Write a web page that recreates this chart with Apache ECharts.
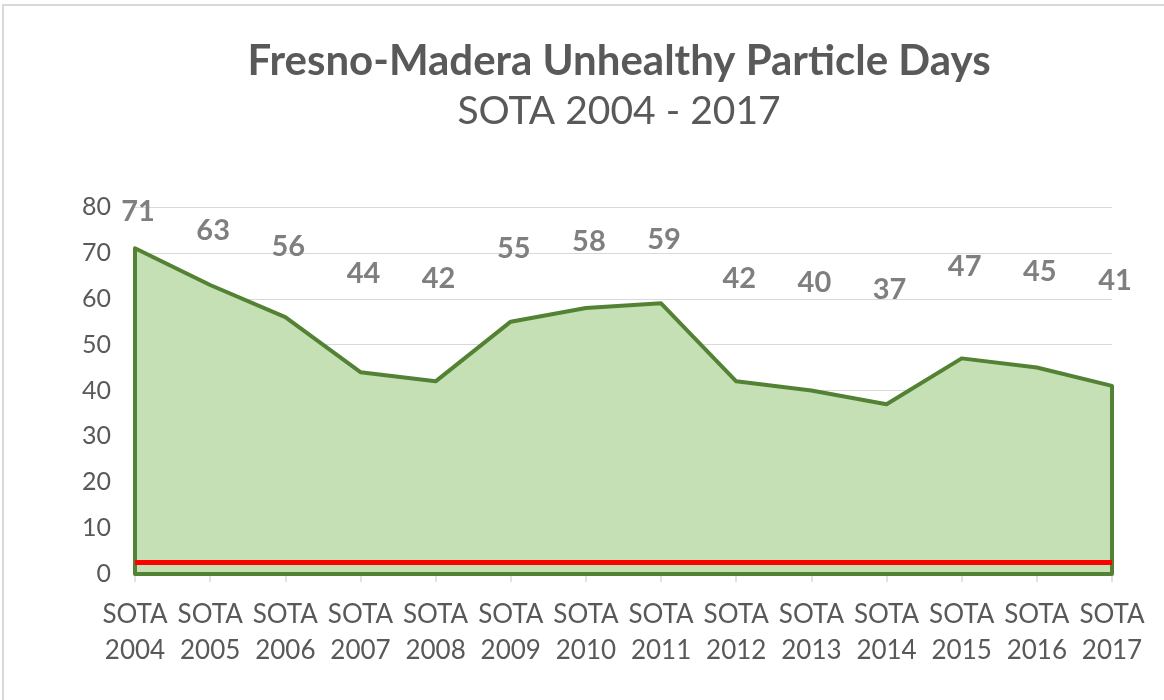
<!DOCTYPE html>
<html><head><meta charset="utf-8">
<script src="https://cdn.jsdelivr.net/npm/echarts@6/dist/echarts.min.js"></script>
<style>html,body{margin:0;padding:0;background:#fff}#c{width:1164px;height:700px}</style>
</head><body><div id="c"></div>
<script>
var categories = ['SOTA\n2004','SOTA\n2005','SOTA\n2006','SOTA\n2007','SOTA\n2008','SOTA\n2009','SOTA\n2010','SOTA\n2011','SOTA\n2012','SOTA\n2013','SOTA\n2014','SOTA\n2015','SOTA\n2016','SOTA\n2017'];
var unhealthyDays = [71,63,56,44,42,55,58,59,42,40,37,47,45,41];
var standardLine = [2.5,2.5,2.5,2.5,2.5,2.5,2.5,2.5,2.5,2.5,2.5,2.5,2.5,2.5];
var yTicks = [0,10,20,30,40,50,60,70,80];

var FONT = 'Lato';
var chart = echarts.init(document.getElementById('c'));
// label gap above point (px) follows the reference's label placement
var labelled = unhealthyDays.map(function(v){
  var gap = 200 - 2.29 * v;
  return {value: v, label: {offset: [3, -(gap - 16)]}};
});
chart.setOption({
  animation: false,
  graphic: [{type:'rect', shape:{x:3,y:5,width:1170,height:700}, style:{fill:'none', stroke:'#d9d9d9', lineWidth:2}, silent:true}],
  title: {
    text: 'Fresno-Madera Unhealthy Particle Days',
    subtext: 'SOTA 2004 - 2017',
    left: 614, textAlign: 'center', top: 35,
    textStyle: {fontFamily: FONT, fontSize: 42, fontWeight: 'bold', color: '#595959'},
    subtextStyle: {fontFamily: FONT, fontSize: 39, color: '#595959'},
    itemGap: 10
  },
  grid: {left: 135, right: 52, top: 207, bottom: 126, containLabel: false},
  xAxis: {
    type: 'category', data: categories, boundaryGap: false,
    axisLine: {lineStyle: {color: '#d9d9d9', width: 1.5}},
    axisTick: {show: true, length: 8, lineStyle: {color: '#d9d9d9', width: 1.5}},
    axisLabel: {fontFamily: FONT, fontSize: 26, color: '#595959', lineHeight: 36, margin: 23, interval: 0},
    splitLine: {show: false}
  },
  yAxis: {
    type: 'value', min: 0, max: 80, interval: 10,
    axisLine: {show: false}, axisTick: {show: false},
    axisLabel: {fontFamily: FONT, fontSize: 25, color: '#595959', margin: 24},
    splitLine: {lineStyle: {color: '#d9d9d9', width: 1.2}}
  },
  series: [
    {
      type: 'custom', renderItem: function(params, api){
        if (params.dataIndex !== 0) return;
        var pts = [];
        for (var i = 0; i < unhealthyDays.length; i++) pts.push(api.coord([i, unhealthyDays[i]]));
        var last = unhealthyDays.length - 1;
        var poly = [api.coord([0,0])].concat(pts).concat([api.coord([last,0])]);
        return {type:'polygon', shape:{points: poly}, style:{fill:'#c5e0b4', stroke:'#548235', lineWidth:4, lineJoin:'round'}};
      },
      data: unhealthyDays.map(function(v,i){return [i,v];}), z: 1, silent: true
    },
    {
      type: 'line', data: labelled, symbol: 'circle', symbolSize: 1, showSymbol: true, z: 3,
      itemStyle: {color: 'rgba(0,0,0,0)'},
      lineStyle: {width: 0, opacity: 0},
      label: {show: true, position: 'top', distance: 0, fontFamily: FONT, fontSize: 29, fontWeight: 'bold', color: '#7f7f7f'}
    },
    {
      type: 'line', data: standardLine, symbol: 'none', z: 4,
      lineStyle: {color: '#ff0000', width: 5}
    }
  ]
});
</script></body></html>
